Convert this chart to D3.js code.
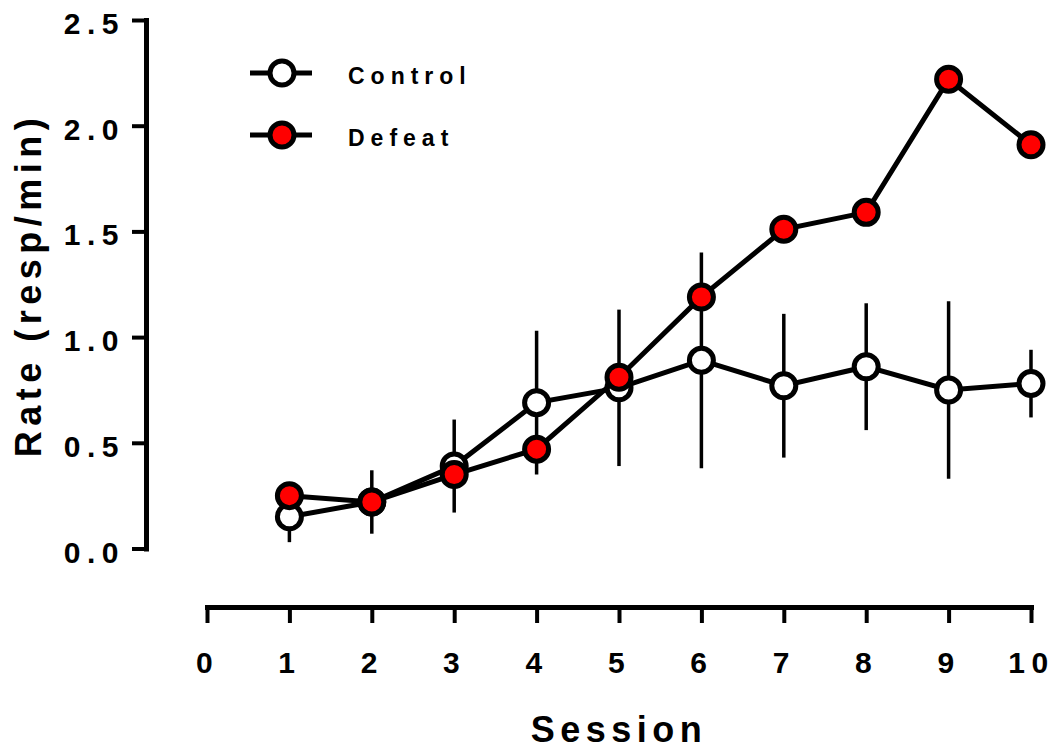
<!DOCTYPE html>
<html>
<head>
<meta charset="utf-8">
<script src="https://cdn.jsdelivr.net/npm/d3@7"></script>
<style>
  html, body { margin: 0; padding: 0; background: #fff; }
  svg text { font-family: 'Liberation Sans', Arial, sans-serif; font-weight: bold; fill: #000; }
</style>
</head>
<body>
<div id="chart"></div>
<script>
'use strict'

const SESSIONS = [1, 2, 3, 4, 5, 6, 7, 8, 9, 10]
const CONTROL_MEAN = [0.15, 0.22, 0.39, 0.69, 0.76, 0.89, 0.77, 0.86, 0.75, 0.78]
const CONTROL_ERR = [0.12, 0.15, 0.22, 0.34, 0.37, 0.51, 0.34, 0.30, 0.42, 0.16]
const DEFEAT_MEAN = [0.25, 0.22, 0.35, 0.47, 0.81, 1.19, 1.51, 1.59, 2.22, 1.91]
const X_TICKS = [0, 1, 2, 3, 4, 5, 6, 7, 8, 9, 10]
const Y_TICKS = [0, 0.5, 1.0, 1.5, 2.0, 2.5]
const SERIES_NAMES = ['Control', 'Defeat']

const WIDTH = 1054
const HEIGHT = 749
const Y_AXIS_X = 146
const X_AXIS_Y = 607
const MARKER_R = 12

const svg = d3.select('#chart').append('svg')
  .attr('width', WIDTH)
  .attr('height', HEIGHT)

const x = d3.scaleLinear().domain([0, 10]).range([207, 1031])
const y = d3.scaleLinear().domain([0, 2.5]).range([548.5, 20])

// y axis
const yAxis = svg.append('g')
  .attr('transform', 'translate(' + Y_AXIS_X + ',0)')
  .call(d3.axisLeft(y).tickValues(Y_TICKS).tickSizeInner(14).tickSizeOuter(0).tickFormat(d3.format('.1f')))
yAxis.select('.domain').attr('stroke', '#000').attr('stroke-width', 5).attr('stroke-linecap', 'square')
yAxis.selectAll('.tick line').attr('stroke', '#000').attr('stroke-width', 4)
yAxis.selectAll('.tick text')
  .attr('x', -21)
  .attr('dy', '0.45em')
  .style('font-size', '30px')
  .style('letter-spacing', '6.5px')

// x axis
const xAxis = svg.append('g')
  .attr('transform', 'translate(0,' + X_AXIS_Y + ')')
  .call(d3.axisBottom(x).tickValues(X_TICKS).tickSizeInner(16).tickSizeOuter(0).tickFormat(d3.format('d')))
xAxis.select('.domain').attr('stroke', '#000').attr('stroke-width', 5).attr('stroke-linecap', 'square')
xAxis.selectAll('.tick line').attr('stroke', '#000').attr('stroke-width', 4)
xAxis.selectAll('.tick text')
  .attr('y', 66)
  .attr('dy', 0)
  .style('font-size', '30px')
  .style('letter-spacing', '6.5px')

// axis titles
svg.append('text')
  .attr('transform', 'translate(41,' + 285 + ') rotate(-90)')
  .attr('text-anchor', 'middle')
  .style('font-size', '36px')
  .style('letter-spacing', '5.5px')
  .text('Rate (resp/min)')

svg.append('text')
  .attr('x', x(5))
  .attr('y', 742)
  .attr('text-anchor', 'middle')
  .style('font-size', '36px')
  .style('letter-spacing', '5.5px')
  .text('Session')

// error bars (control)
svg.append('g').selectAll('line')
  .data(SESSIONS)
  .join('line')
  .attr('x1', d => x(d))
  .attr('x2', d => x(d))
  .attr('y1', (d, i) => y(CONTROL_MEAN[i] - CONTROL_ERR[i]))
  .attr('y2', (d, i) => y(CONTROL_MEAN[i] + CONTROL_ERR[i]))
  .attr('stroke', '#000')
  .attr('stroke-width', 3.5)

const line = d3.line()
  .x(d => x(d[0]))
  .y(d => y(d[1]))

function drawSeries (means, fill) {
  const pts = SESSIONS.map((s, i) => [s, means[i]])
  svg.append('path')
    .datum(pts)
    .attr('fill', 'none')
    .attr('stroke', '#000')
    .attr('stroke-width', 5)
    .attr('d', line)
  svg.append('g').selectAll('circle')
    .data(pts)
    .join('circle')
    .attr('cx', d => x(d[0]))
    .attr('cy', d => y(d[1]))
    .attr('r', MARKER_R)
    .attr('fill', fill)
    .attr('stroke', '#000')
    .attr('stroke-width', 5)
}

drawSeries(CONTROL_MEAN, '#fff')
drawSeries(DEFEAT_MEAN, '#ff0000')

// legend
const legendFills = ['#fff', '#ff0000']
const legend = svg.append('g').selectAll('g')
  .data(SERIES_NAMES)
  .join('g')
  .attr('transform', (d, i) => 'translate(0,' + (73 + i * 62) + ')')
legend.append('line')
  .attr('x1', 250).attr('x2', 312)
  .attr('stroke', '#000').attr('stroke-width', 5)
legend.append('circle')
  .attr('cx', 282)
  .attr('r', MARKER_R)
  .attr('fill', (d, i) => legendFills[i])
  .attr('stroke', '#000')
  .attr('stroke-width', 5)
legend.append('text')
  .attr('x', 348)
  .attr('y', 11)
  .style('font-size', '23px')
  .style('letter-spacing', '6px')
  .text(d => d)
</script>
</body>
</html>
